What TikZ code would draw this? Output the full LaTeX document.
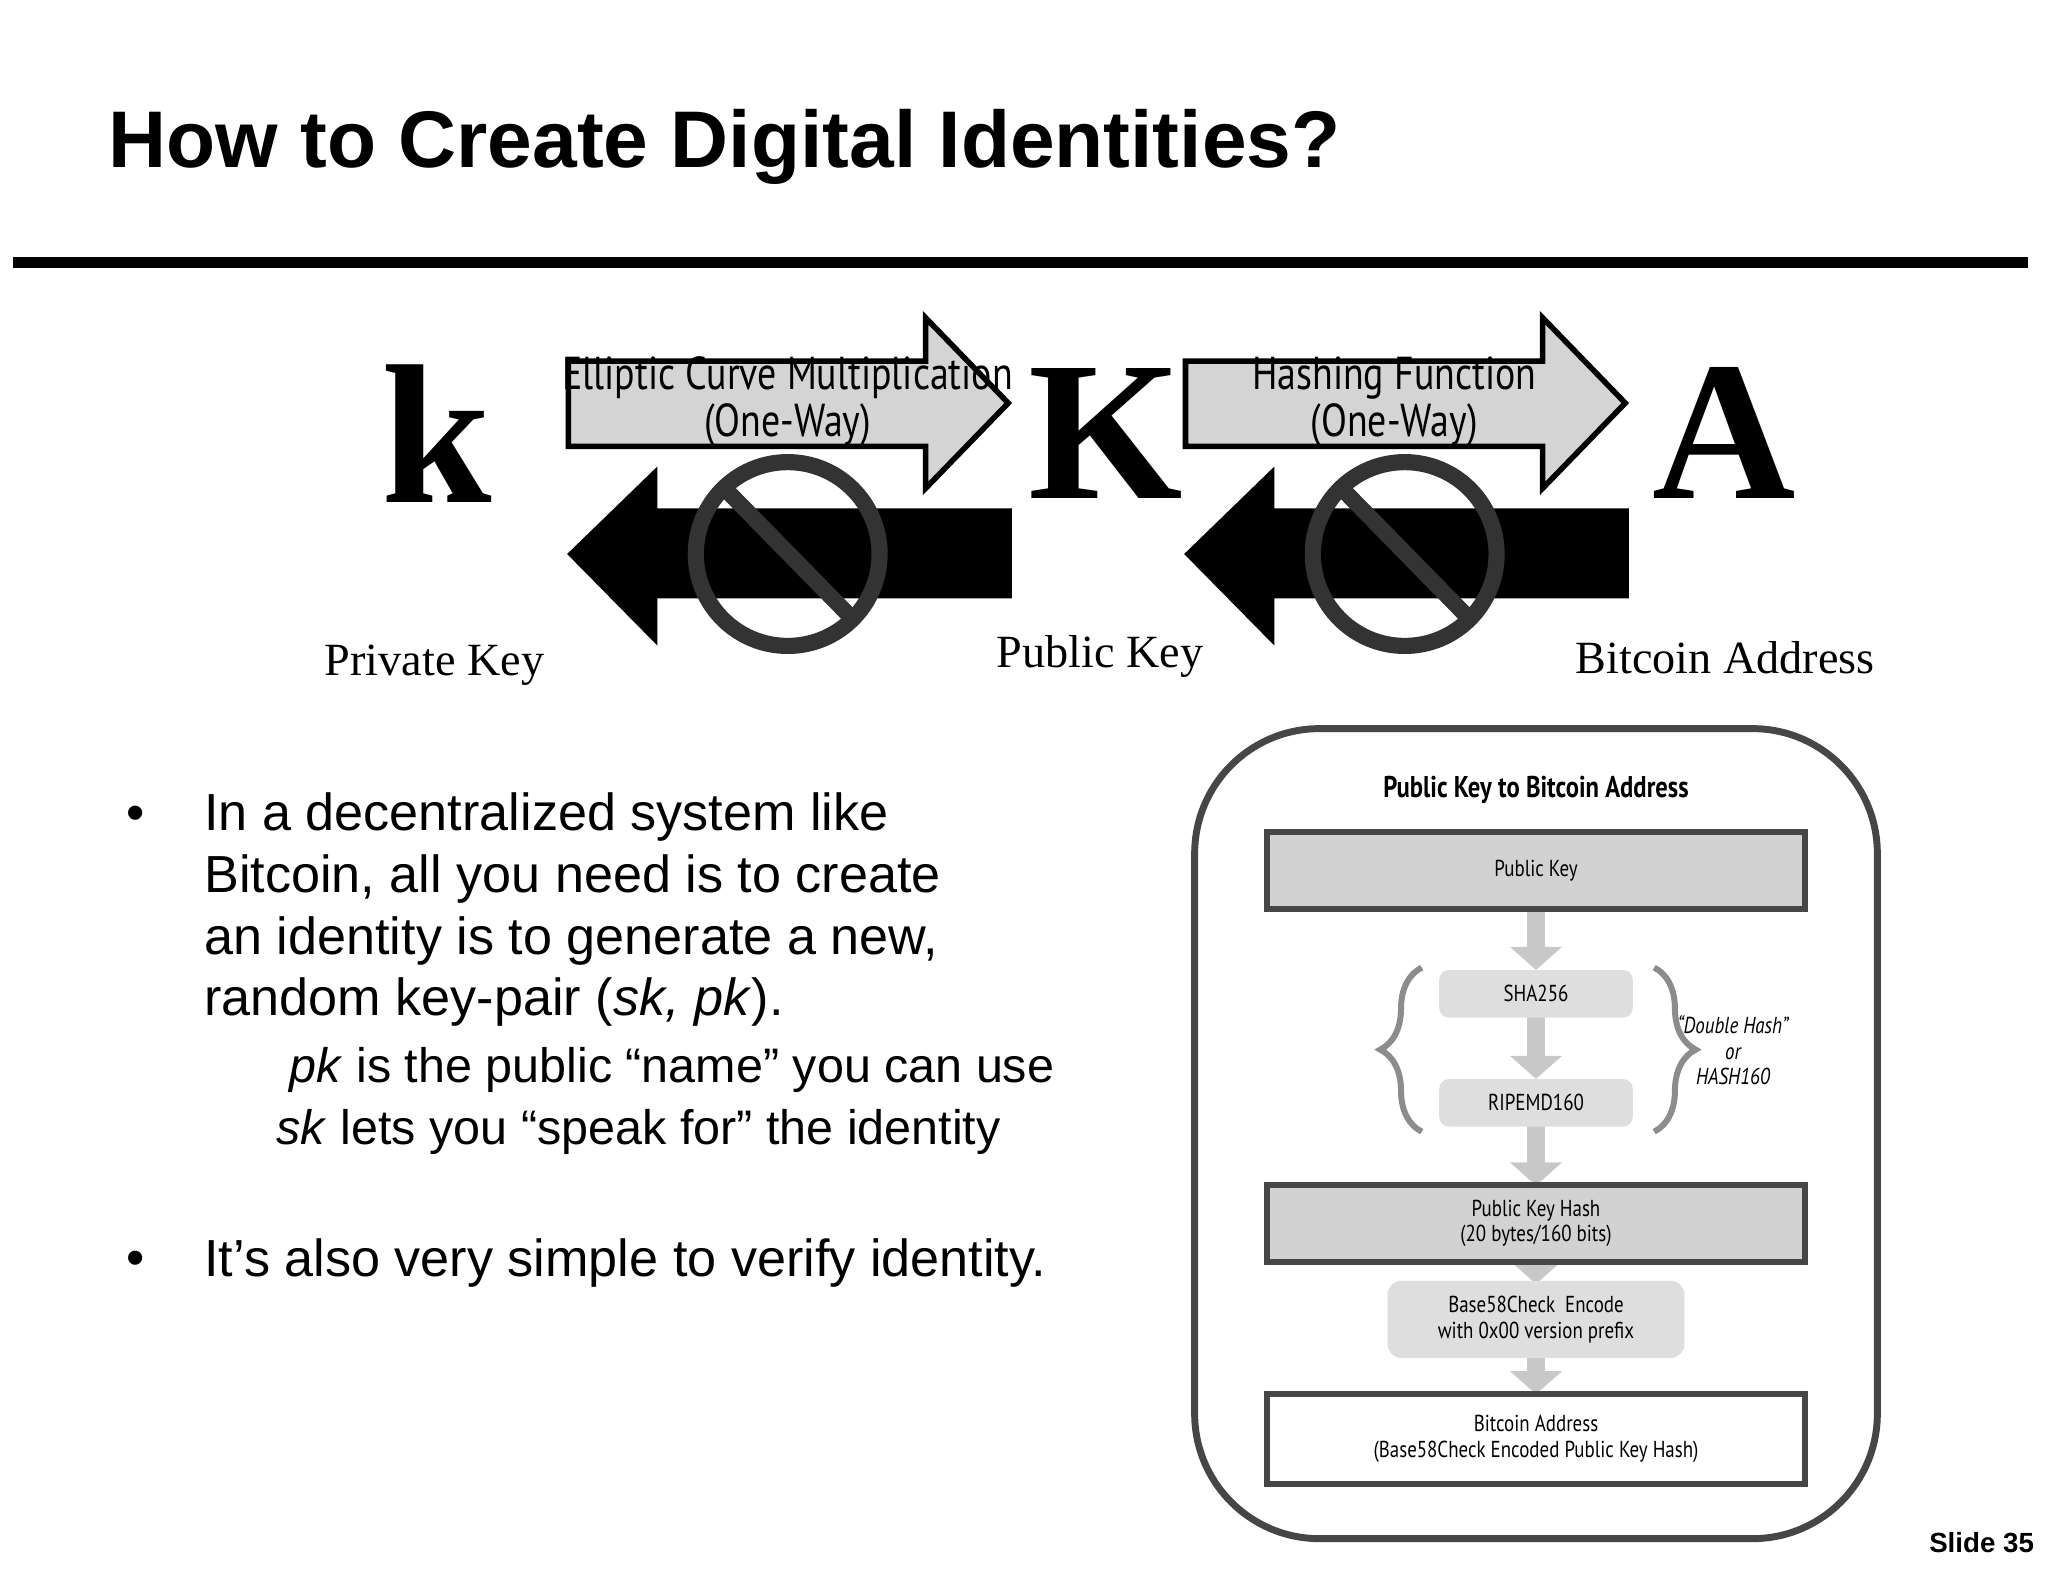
\documentclass[tikz,border=0pt]{standalone}
\usepackage{fontspec}
\setmainfont{Liberation Sans}
\newfontfamily\serifF{Liberation Serif}
\newfontfamily\condF{PT Sans}
\usetikzlibrary{decorations.pathreplacing,arrows.meta}
\definecolor{boxfill}{RGB}{210,210,210}
\definecolor{lightbox}{RGB}{222,222,222}
\definecolor{darkline}{RGB}{70,70,70}
\definecolor{arrowgray}{RGB}{200,200,200}
\newcommand{\cnd}[1]{\scalebox{0.82}[1]{#1}}
\begin{document}
\begin{tikzpicture}[x=0.01cm,y=-0.01cm,
  bigletter/.style={font=\serifF\bfseries\fontsize{43}{45}\selectfont},
  keylabel/.style={font=\serifF\fontsize{10}{12}\selectfont},
  arrowlabel/.style={font=\condF\fontsize{10}{9}\selectfont,align=center,inner sep=0pt},
  grayarrow/.style={fill=black!17,draw=black,line width=1.2pt},
  blackarrow/.style={fill=black,draw=black},
  nosign/.style={draw=black!80,line width=3.5pt},
  flowbox/.style={draw=darkline,line width=1.3pt,fill=boxfill,minimum width=4.1cm,minimum height=0.58cm,font=\condF\fontsize{5}{5.5}\selectfont,align=center},
  hashbox/.style={fill=lightbox,rounded corners=2pt,minimum width=1.47cm,minimum height=0.35cm,font=\condF\fontsize{5}{5.5}\selectfont},
  flowarrow/.style={draw=arrowgray,line width=4pt,-{Triangle[length=5pt,width=11pt]}},
  bullettext/.style={font=\fontsize{11.3}{13.4}\selectfont,anchor=north west,align=left,inner sep=0pt},
  gbrace/.style={draw=black!45,line width=1.3pt,decorate,decoration={brace,amplitude=9pt}}
]
\useasboundingbox (0,0) rectangle (1560,1205);
\fill[white] (0,0) rectangle (1560,1205);
% title
\node[anchor=west,font=\bfseries\fontsize{17.4}{20}\selectfont,inner sep=0pt] (title) at (82,112) {How to Create Digital Identities?};
\draw[line width=2.3pt] (10,200) -- (1545,200);
% big letters
\node[bigletter] (k) at (333,330) {k};
\node[bigletter] (K) at (842,330) {K};
\node[bigletter] (A) at (1313,330) {A};
% arrows set 1 and 2
\foreach \dx in {0,470}{
  \begin{scope}[xshift=\dx*0.01cm]
  \draw[grayarrow] (433,275) -- (705,275) -- (705,242) -- (768,307) -- (705,372) -- (705,340) -- (433,340) -- cycle;
  \fill[blackarrow] (770,388) -- (500,388) -- (500,357) -- (433,422) -- (500,490) -- (500,455) -- (770,455) -- cycle;
  \draw[nosign] (600,422) circle (70);
  \draw[nosign] (552,372) -- (650,472);
  \end{scope}
}
\node[arrowlabel] (l1) at (600,306) {\cnd{Elliptic Curve Multiplication}\\\cnd{(One-Way)}};
\node[arrowlabel] (l2) at (1062,306) {\cnd{Hashing Function}\\\cnd{(One-Way)}};
\node[keylabel] (pk1) at (331,507) {Private Key};
\node[keylabel] (pk2) at (838,500) {Public Key};
\node[keylabel] (ba) at (1314,501) {Bitcoin Address};
% bullets
\node[font=\fontsize{11.3}{13}\selectfont] (b1) at (103,623) {•};
\node[bullettext] (t1) at (155,603) {In a decentralized system like\\Bitcoin, all you need is to create\\an identity is to generate a new,\\random key-pair (\emph{sk, pk}).};
\node[font=\fontsize{10.5}{12}\selectfont,anchor=west,inner sep=0pt] (s1) at (220,815) {\emph{pk} is the public “name” you can use};
\node[font=\fontsize{10.5}{12}\selectfont,anchor=west,inner sep=0pt] (s2) at (210,862) {\emph{sk} lets you “speak for” the identity};
\node[font=\fontsize{11.3}{13}\selectfont] (b2) at (103,962) {•};
\node[font=\fontsize{11.3}{13}\selectfont,anchor=west,inner sep=0pt] (t2) at (155,962) {It’s also very simple to verify identity.};
% right panel
\draw[draw=darkline,line width=1.5pt,rounded corners=0.95cm] (910,555) rectangle (1430,1172);
\node[font=\condF\bfseries\fontsize{6.5}{8}\selectfont] (ptitle) at (1170,602) {\cnd{Public Key to Bitcoin Address}};
\coordinate (c1) at (1170,692);
\coordinate (c2) at (1170,775);
\coordinate (c3) at (1170,857);
\coordinate (c4) at (1170,962);
\coordinate (c5) at (1170,1033);
\node[hashbox] (sha) at (1170,757) {};
\node[hashbox] (ripe) at (1170,840) {};
\draw[flowarrow] (c1) -- (sha.north);
\draw[flowarrow] (c2) -- (ripe.north);
\draw[flowarrow] (c3) -- (1170,903);
\draw[flowarrow] (c4) -- (1170,978);
\draw[flowarrow] (c5) -- (1170,1062);
\node[flowbox] (pubk) at (1170,663) {\cnd{Public Key}};
\node[hashbox] (sha2) at (1170,757) {\cnd{SHA256}};
\node[hashbox] (ripe2) at (1170,840) {\cnd{RIPEMD160}};
\node[flowbox] (pkh) at (1170,932) {\cnd{Public Key Hash}\\\cnd{(20 bytes/160 bits)}};
\node[hashbox,minimum width=2.26cm,minimum height=0.55cm,align=center,rounded corners=3pt] (b58) at (1170,1005) {\cnd{Base58Check\ \ Encode}\\\cnd{with 0x00 version prefix}};
\node[flowbox,fill=white,minimum height=0.68cm] (addr) at (1170,1096) {\cnd{Bitcoin Address}\\\cnd{(Base58Check Encoded Public Key Hash)}};
\draw[gbrace] (1083,862) -- (1083,737);
\draw[gbrace] (1260,737) -- (1260,862);
\node[font=\condF\itshape\fontsize{5}{5.5}\selectfont,align=center] (dh) at (1320,800) {\cnd{“Double Hash”}\\\cnd{or}\\\cnd{HASH160}};
\node[font=\bfseries\fontsize{6}{8}\selectfont,anchor=east,inner sep=0pt] (slide) at (1550,1175) {Slide 35};
\end{tikzpicture}
\end{document}
